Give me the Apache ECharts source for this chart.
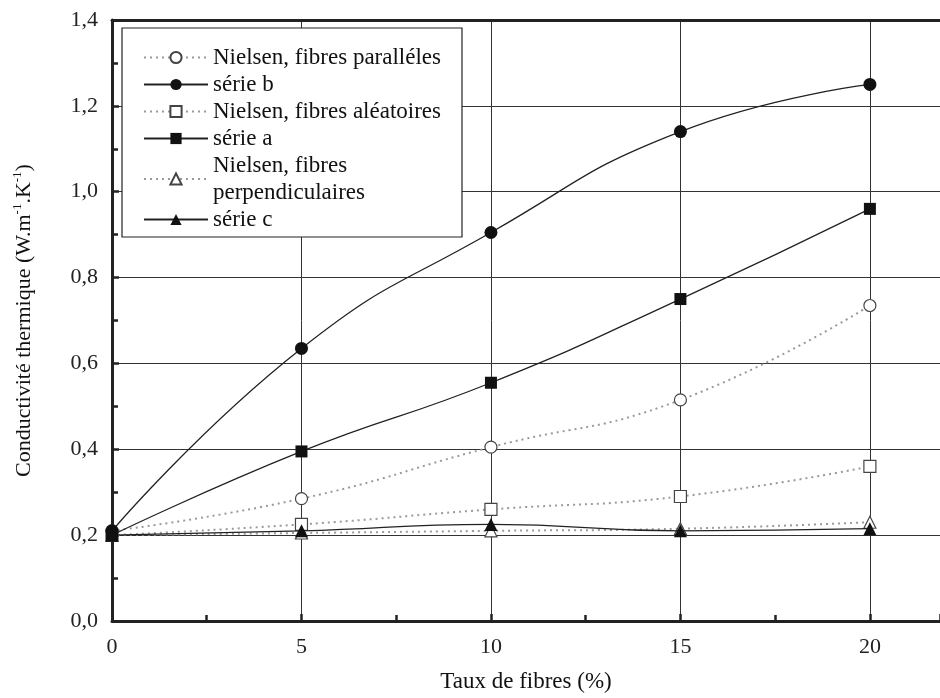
<!DOCTYPE html>
<html>
<head>
<meta charset="utf-8">
<script src="https://cdn.jsdelivr.net/npm/echarts@6/dist/echarts.min.js"></script>
<style>
  html, body { margin: 0; padding: 0; background: #fff; }
  #main { width: 940px; height: 698px; }
</style>
</head>
<body>
<div id="main"></div>
<script>
// values
var taux = [0, 5, 10, 15, 20];
var nielsenParalleles = [0.21, 0.285, 0.405, 0.515, 0.735];
var serieB = [0.21, 0.635, 0.905, 1.14, 1.25];
var nielsenAleatoires = [0.20, 0.225, 0.26, 0.29, 0.36];
var serieA = [0.20, 0.395, 0.555, 0.75, 0.96];
var nielsenPerpendiculaires = [0.20, 0.205, 0.21, 0.215, 0.23];
var serieC = [0.20, 0.21, 0.225, 0.21, 0.215];

var FONT = '"Liberation Serif", "Times New Roman", serif';

function pairs(vals) {
  return taux.map(function (x, i) { return [x, vals[i]]; });
}

var myChart = echarts.init(document.getElementById('main'));

function nielsen(name, vals, symbol) {
  return {
    name: name,
    type: 'line',
    smooth: true,
    symbol: symbol,
    symbolSize: 12,
    showAllSymbol: true,
    lineStyle: { color: '#9a9a9a', width: 2, type: [2, 4] },
    itemStyle: { color: '#fff', borderColor: '#444', borderWidth: 1.2 },
    data: pairs(vals),
    z: 3
  };
}

function serie(name, vals, symbol, size) {
  return {
    name: name,
    type: 'line',
    smooth: true,
    symbol: symbol,
    symbolSize: size,
    lineStyle: { color: '#222', width: 1.3 },
    itemStyle: { color: '#111' },
    data: pairs(vals),
    z: 4
  };
}

var option = {
  animation: false,
  backgroundColor: '#fff',
  textStyle: { fontFamily: FONT },
  grid: { left: 112, top: 20, right: 0, bottom: 76 },
  legend: {
    orient: 'vertical',
    left: 122,
    top: 28,
    padding: [16, 21, 4, 21],
    itemGap: 0,
    itemWidth: 64,
    itemHeight: 14,
    borderColor: '#222',
    borderWidth: 1.2,
    backgroundColor: '#fff',
    textStyle: { fontFamily: FONT, fontSize: 23, color: '#111', lineHeight: 27 },
    data: [
      'Nielsen, fibres paralléles',
      'série b',
      'Nielsen, fibres aléatoires',
      'série a',
      'Nielsen, fibres\nperpendiculaires',
      'série c'
    ]
  },
  xAxis: [
    {
      type: 'value',
      min: 0,
      max: 21.85,
      interval: 5,
      name: 'Taux de fibres (%)',
      nameLocation: 'middle',
      nameGap: 49,
      nameTextStyle: { fontFamily: FONT, fontSize: 23, color: '#111' },
      axisLine: { lineStyle: { color: '#222', width: 3 } },
      axisTick: { inside: true, length: 7, lineStyle: { color: '#222', width: 2.5 } },
      minorTick: { show: true, splitNumber: 2, length: 6, lineStyle: { color: '#222', width: 2.5 } },
      axisLabel: {
        fontFamily: FONT, fontSize: 22, color: '#222', margin: 15, showMaxLabel: false,
        formatter: function (v) { return v % 5 === 0 ? String(v) : ''; }
      },
      splitLine: { show: true, lineStyle: { color: '#333', width: 1 } }
    },
    {
      type: 'value',
      position: 'top',
      min: 0,
      max: 21.85,
      axisLine: { show: true, onZero: false, lineStyle: { color: '#222', width: 3 } },
      axisTick: { show: false },
      axisLabel: { show: false },
      splitLine: { show: false }
    }
  ],
  yAxis: {
    type: 'value',
    min: 0,
    max: 1.4,
    interval: 0.2,
    name: 'Conductivité thermique (W.m{s|-1}.K{s|-1})',
    nameLocation: 'middle',
    nameGap: 75,
    nameTextStyle: {
      fontFamily: FONT, fontSize: 22, color: '#111',
      rich: { s: { fontFamily: FONT, fontSize: 13, color: '#111', verticalAlign: 'top', lineHeight: 26 } }
    },
    axisLine: { show: true, lineStyle: { color: '#222', width: 3 } },
    axisTick: { inside: true, length: 7, lineStyle: { color: '#222', width: 2.5 } },
    minorTick: { show: true, splitNumber: 2, length: 6, lineStyle: { color: '#222', width: 2.5 } },
    axisLabel: {
      fontFamily: FONT, fontSize: 22, color: '#222', margin: 14,
      formatter: function (v) { return v.toFixed(1).replace('.', ','); }
    },
    splitLine: { show: true, lineStyle: { color: '#333', width: 1 } }
  },
  series: [
    nielsen('Nielsen, fibres paralléles', nielsenParalleles, 'circle'),
    serie('série b', serieB, 'circle', 13),
    nielsen('Nielsen, fibres aléatoires', nielsenAleatoires, 'rect'),
    serie('série a', serieA, 'rect', 12),
    nielsen('Nielsen, fibres\nperpendiculaires', nielsenPerpendiculaires, 'triangle'),
    serie('série c', serieC, 'triangle', 13)
  ]
};

myChart.setOption(option);
</script>
</body>
</html>
